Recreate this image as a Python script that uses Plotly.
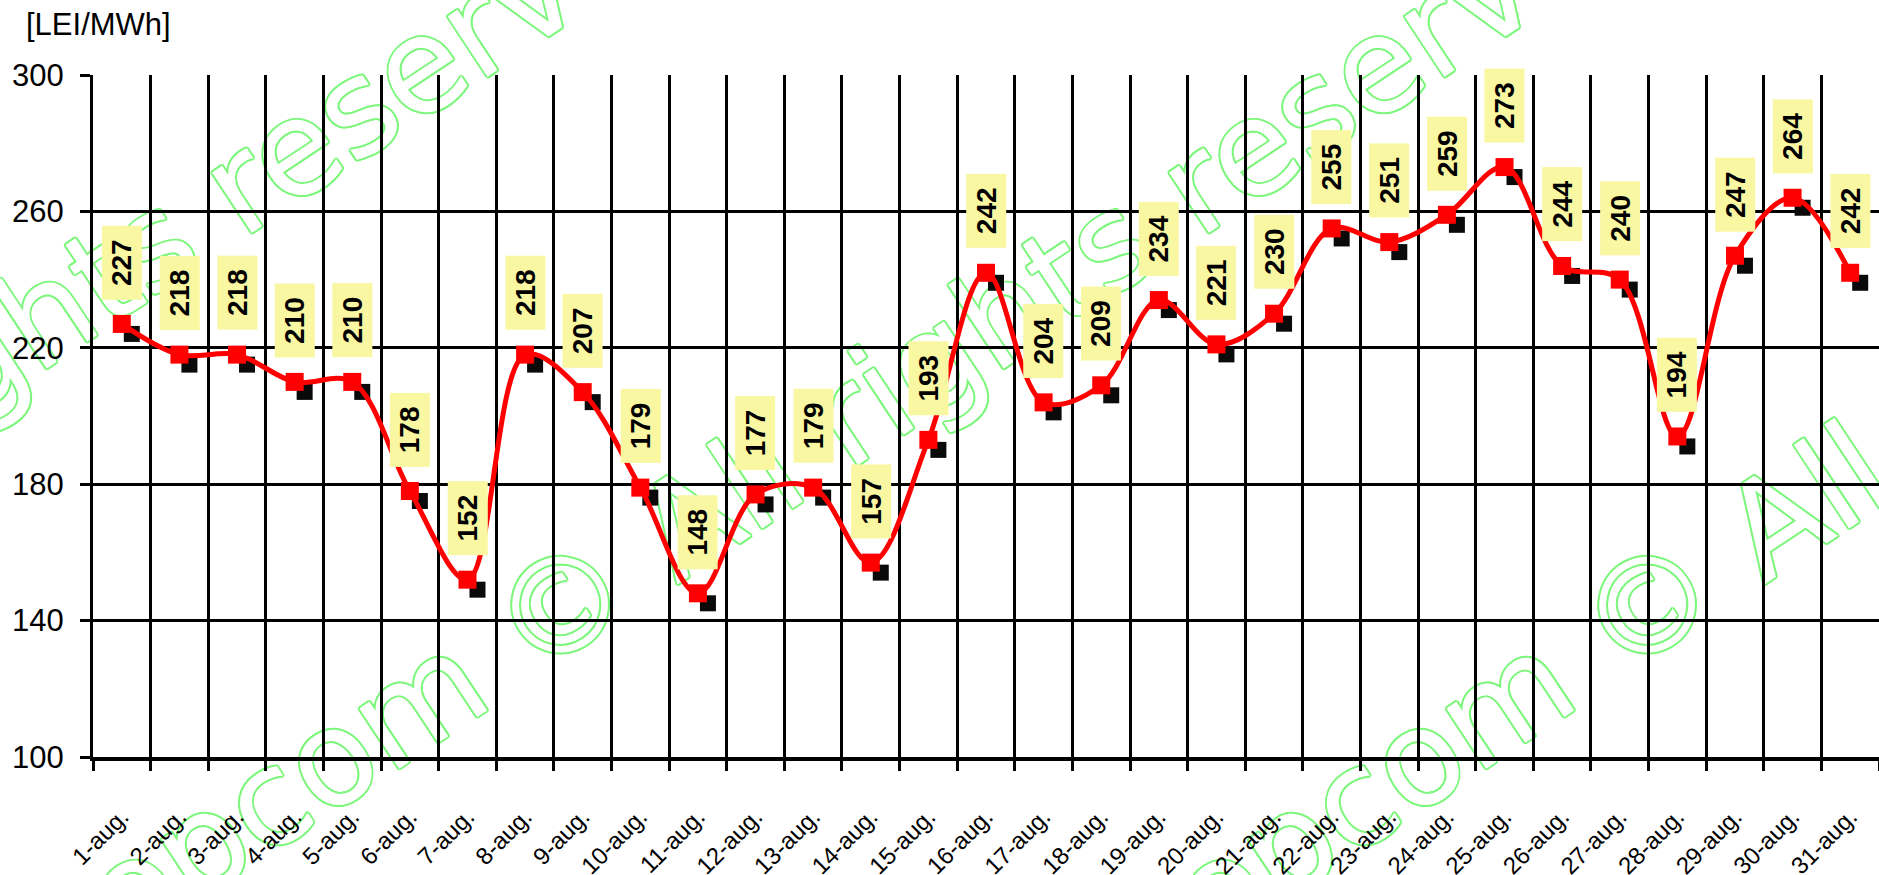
import plotly.graph_objects as go

# ---------------- data ----------------
days = ["1-aug.", "2-aug.", "3-aug.", "4-aug.", "5-aug.", "6-aug.", "7-aug.", "8-aug.",
        "9-aug.", "10-aug.", "11-aug.", "12-aug.", "13-aug.", "14-aug.", "15-aug.",
        "16-aug.", "17-aug.", "18-aug.", "19-aug.", "20-aug.", "21-aug.", "22-aug.",
        "23-aug.", "24-aug.", "25-aug.", "26-aug.", "27-aug.", "28-aug.", "29-aug.",
        "30-aug.", "31-aug."]
prices = [227, 218, 218, 210, 210, 178, 152, 218, 207, 179, 148, 177, 179, 157, 193,
          242, 204, 209, 234, 221, 230, 255, 251, 259, 273, 244, 240, 194, 247, 264, 242]
y_ticks = [100, 140, 180, 220, 260, 300]
unit_label = "[LEI/MWh]"
watermark = "opcom © All rights reserved"

# ---------------- layout constants ----------------
W, H = 1879, 875
L, R, T, B = 93, 0, 75, 118
PW, PH = W - L - R, H - T - B
YMIN, YMAX = 100, 300
SHADOW_PX = 10
sx = SHADOW_PX / (PW / len(days))
sy = SHADOW_PX * (YMAX - YMIN) / PH

FONT = "Liberation Sans, Arial, Helvetica, sans-serif"
RED = "#ff0000"
YELLOW = "#FAF7A2"
GREEN = "#7CF77C"

fig = go.Figure()

# shadow squares (drawn on a shifted overlay axis pair)
fig.add_trace(go.Scatter(
    x=days, y=prices, xaxis="x2", yaxis="y2", mode="markers",
    marker=dict(symbol="square", size=16, color="#0a0a0a", line=dict(width=0)),
    hoverinfo="skip", showlegend=False))

# main red spline with square markers
fig.add_trace(go.Scatter(
    x=days, y=prices, xaxis="x3", yaxis="y3", mode="lines+markers",
    line=dict(color=RED, width=5, shape="spline", smoothing=1.0),
    marker=dict(symbol="square", size=18, color=RED, line=dict(width=0)),
    showlegend=False))

# value labels in yellow boxes
for d, v in zip(days, prices):
    fig.add_annotation(
        x=d, y=v, xref="x", yref="y", text=f"<b>{v}</b>", textangle=-90,
        showarrow=False, bgcolor=YELLOW, borderpad=3, width=67, height=33,
        font=dict(family=FONT, size=28, color="black"),
        xanchor="center", yanchor="bottom", yshift=24)

# unit label
fig.add_annotation(
    text=unit_label, xref="paper", yref="paper", x=0, y=1,
    xanchor="left", yanchor="top", xshift=24 - L, yshift=70,
    showarrow=False, font=dict(family=FONT, size=31, color="black"))

# watermark (outlined green text, behind the grid)
outline = ", ".join(f"{dx}px {dy}px 0 {GREEN}" for dx, dy in
                    [(2, 0), (-2, 0), (0, 2), (0, -2),
                     (1.4, 1.4), (-1.4, 1.4), (1.4, -1.4), (-1.4, -1.4)])
wm_centers_px = [(-84, 389), (873, 389), (1960, 389)]
for cx, cy in wm_centers_px:
    px = (cx - L) / PW
    py = (T + PH - cy) / PH
    fig.add_shape(
        type="line", xref="paper", yref="paper",
        x0=px - 0.0005, x1=px + 0.0005, y0=py, y1=py,
        layer="below", line=dict(width=0, color="rgba(0,0,0,0)"),
        label=dict(text=watermark, textangle=-33.5, textposition="middle",
                   xanchor="center", yanchor="middle", padding=0,
                   font=dict(family="DejaVu Sans, Verdana, sans-serif", size=132,
                             color="white", shadow=outline)))

axis_common = dict(zeroline=False, fixedrange=True)
fig.update_layout(
    width=W, height=H,
    margin=dict(l=L, r=R, t=T, b=B, autoexpand=False),
    paper_bgcolor="white", plot_bgcolor="rgba(255,255,255,0)",
    showlegend=False,
    xaxis=dict(type="category", categoryorder="array", categoryarray=days,
               range=[-0.5, len(days) - 0.5], tickson="boundaries",
               showgrid=True, gridcolor="black", gridwidth=2.5,
               ticks="outside", ticklen=10, tickwidth=2.5, tickcolor="black",
               showline=True, linecolor="black", linewidth=4,
               tickangle=-45, ticklabelstandoff=32,
               tickfont=dict(family=FONT, size=24, color="black"), **axis_common),
    yaxis=dict(range=[YMIN, YMAX], tickvals=y_ticks,
               showgrid=True, gridcolor="black", gridwidth=3,
               ticks="outside", ticklen=10, tickwidth=3, tickcolor="black",
               showline=True, linecolor="black", linewidth=3,
               ticklabelstandoff=10,
               tickfont=dict(family=FONT, size=31, color="black"), **axis_common),
    xaxis2=dict(type="category", categoryorder="array", categoryarray=days,
                overlaying="x", anchor="y2",
                range=[-0.5 - sx, len(days) - 0.5 - sx], visible=False, **axis_common),
    yaxis2=dict(overlaying="y", anchor="x2", range=[YMIN + sy, YMAX + sy],
                visible=False, **axis_common),
    xaxis3=dict(type="category", categoryorder="array", categoryarray=days,
                overlaying="x", anchor="y3",
                range=[-0.5, len(days) - 0.5], visible=False, **axis_common),
    yaxis3=dict(overlaying="y", anchor="x3", range=[YMIN, YMAX],
                visible=False, **axis_common),
)

fig.write_html("out.html",
               config={"displayModeBar": False},
               post_script="document.body.style.margin='0';document.body.style.overflow='hidden';")
